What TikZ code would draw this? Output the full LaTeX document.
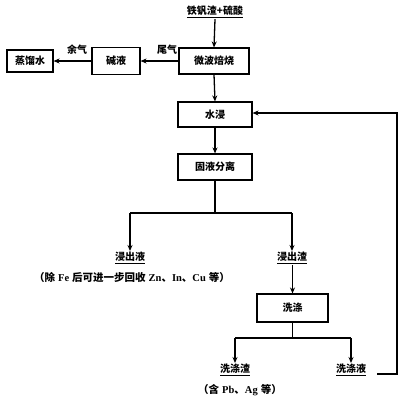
\documentclass[tikz,border=0pt]{standalone}
\usepackage{fontspec}
\setmainfont{Liberation Serif}
\newfontfamily\cjk{Noto Sans CJK SC}
\usetikzlibrary{arrows.meta}
\begin{document}
\begin{tikzpicture}[x=1pt,y=-1pt,
  box/.style={draw,line width=1.1pt,minimum width=#1,minimum height=26pt,inner sep=0pt,font=\cjk\bfseries\fontsize{10}{12}\selectfont},
  lbl/.style={inner sep=1pt,font=\cjk\bfseries\fontsize{10}{12}\selectfont},
  note/.style={inner sep=1pt,font=\bfseries\fontsize{10.5}{12}\selectfont},
  ln/.style={line width=1.3pt},
  arr/.style={ln,-{Stealth[length=6pt,width=5pt]}}]
\useasboundingbox (0,0) rectangle (403,400);
% nodes
\node[lbl] (src) at (215,12) {\underline{铁钒渣+硫酸}};
\node[box=70pt] (mw) at (214,61) {微波焙烧};
\node[box=48pt,minimum height=27pt] (jy) at (116,61) {碱液};
\node[box=46pt,minimum height=22pt] (zl) at (30,61) {蒸馏水};
\node[box=74pt,minimum height=25pt] (sj) at (215,114.5) {水浸};
\node[box=74pt] (gy) at (215,167) {固液分离};
\node[lbl,anchor=north] (jcy) at (130,251) {\underline{浸出液}};
\node[note] (n1) at (132,277) {{\cjk （除}\hspace{3pt}Fe\hspace{3pt}{\cjk 后可进一步回收}\hspace{3pt}Zn{\cjk 、}In{\cjk 、}Cu\hspace{3pt}{\cjk 等）}};
\node[lbl,anchor=north] (jcz) at (292,251) {\underline{浸出渣}};
\node[box=71pt,minimum height=28pt] (xd) at (292.5,308) {洗涤};
\node[lbl,anchor=north] (xdz) at (235,363) {\underline{洗涤渣}};
\node[note] (n2) at (240,390) {{\cjk （含}\hspace{3pt}Pb{\cjk 、}Ag\hspace{3pt}{\cjk 等）}};
\node[lbl,anchor=north] (xdy) at (351,363) {\underline{洗涤液}};
\node[lbl] (wq) at (167,50) {尾气};
\node[lbl] (yq) at (77,50) {余气};
% split coordinates
\coordinate (s1) at (215,213);
\coordinate (s1l) at (130,213);
\coordinate (s1r) at (292,213);
\coordinate (s2) at (292.5,338);
\coordinate (s2l) at (235,338);
\coordinate (s2r) at (351,338);
\coordinate (fb0) at (377,374);
\coordinate (fb1) at (397,374);
\coordinate (fb2) at (397,113);
% connectors
\draw[arr] (src.south) -- (mw.north);
\draw[arr] (mw.west) -- (jy.east);
\draw[arr] (jy.west) -- (zl.east);
\draw[arr] (mw.south) -- (sj.north);
\draw[arr] (sj.south) -- (gy.north);
\draw[ln] (gy.south) -- (s1);
\draw[ln] (s1l) -- (s1r);
\draw[arr] (s1l) -- (jcy.north);
\draw[arr] (s1r) -- (jcz.north);
\draw[arr] (jcz.south -| xd.north) -- (xd.north);
\draw[ln] (xd.south) -- (s2);
\draw[ln] (s2l) -- (s2r);
\draw[arr] (s2l) -- (xdz.north);
\draw[arr] (s2r) -- (xdy.north);
\draw[arr] (fb0) -- (fb1) -- (fb2) -- (sj.east |- fb2);
\end{tikzpicture}
\end{document}
